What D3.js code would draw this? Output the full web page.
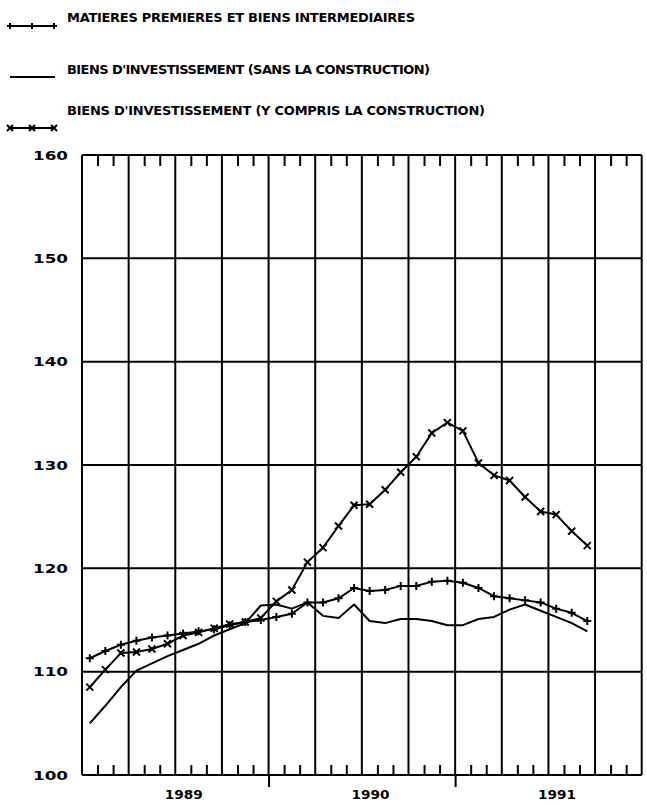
<!DOCTYPE html>
<html>
<head>
<meta charset="utf-8">
<script src="https://cdn.jsdelivr.net/npm/d3@7"></script>
<style>
  html, body { margin: 0; padding: 0; background: #fff; }
  svg { display: block; }
  text { font-family: "DejaVu Sans", sans-serif; font-weight: bold; fill: #000; }
</style>
</head>
<body>
<script>
// ---- Data (monthly index values, Jan 1989 – Sep 1991) ----
const months = [
  "1989-01","1989-02","1989-03","1989-04","1989-05","1989-06","1989-07","1989-08","1989-09","1989-10","1989-11","1989-12",
  "1990-01","1990-02","1990-03","1990-04","1990-05","1990-06","1990-07","1990-08","1990-09","1990-10","1990-11","1990-12",
  "1991-01","1991-02","1991-03","1991-04","1991-05","1991-06","1991-07","1991-08","1991-09"
];
const matieresPremieres = [
  111.3, 112.0, 112.6, 113.0, 113.3, 113.5, 113.7, 113.9, 114.1, 114.5, 114.8, 115.0,
  115.3, 115.6, 116.7, 116.7, 117.1, 118.1, 117.8, 117.9, 118.3, 118.3, 118.7, 118.8,
  118.6, 118.1, 117.3, 117.1, 116.9, 116.7, 116.1, 115.7, 114.9
];
const sansConstruction = [
  105.0, 106.7, 108.5, 110.1, 110.8, 111.5, 112.1, 112.7, 113.5, 114.1, 114.7, 116.4,
  116.5, 116.1, 116.7, 115.4, 115.2, 116.5, 114.9, 114.7, 115.1, 115.1, 114.9, 114.5,
  114.5, 115.1, 115.3, 116.0, 116.5, 115.9, 115.3, 114.7, 113.9
];
const yComprisConstruction = [
  108.5, 110.2, 111.8, 111.9, 112.2, 112.7, 113.5, 113.8, 114.2, 114.6, 114.8, 115.2,
  116.8, 117.9, 120.6, 122.0, 124.1, 126.1, 126.2, 127.6, 129.3, 130.8, 133.1, 134.1,
  133.3, 130.2, 129.0, 128.5, 126.9, 125.5, 125.2, 123.6, 122.2
];
const yTicks = [100, 110, 120, 130, 140, 150, 160];
const years = ["1989", "1990", "1991"];
const seriesNames = [
  "MATIERES PREMIERES ET BIENS INTERMEDIAIRES",
  "BIENS D'INVESTISSEMENT (SANS LA CONSTRUCTION)",
  "BIENS D'INVESTISSEMENT (Y COMPRIS LA CONSTRUCTION)"
];

// ---- Layout ----
const W = 647, H = 805;
const svg = d3.select("body").append("svg").attr("width", W).attr("height", H);

const nMonths = years.length * 12;
const x = d3.scaleLinear().domain([0, nMonths]).range([82, 641.7]);
const y = d3.scaleLinear().domain([100, 160]).range([775, 155]);
const xm = i => x(i + 0.5); // data points at mid-month

const ink = "#000";

// ---- Grid ----
const grid = svg.append("g").attr("stroke", ink).attr("stroke-width", 2);
grid.selectAll("line.h").data(yTicks).join("line")
  .attr("x1", x(0)).attr("x2", x(nMonths))
  .attr("y1", d => y(d)).attr("y2", d => y(d));
grid.selectAll("line.v").data(d3.range(0, nMonths + 1, 3)).join("line")
  .attr("x1", d => x(d)).attr("x2", d => x(d))
  .attr("y1", y(160)).attr("y2", y(100));

// ---- Axes ----
const minor = d3.range(1, nMonths).filter(m => m % 3 !== 0);
const topAx = svg.append("g").attr("transform", `translate(0,${y(160)})`)
  .call(d3.axisTop(x).tickValues(minor).tickSize(-11).tickFormat(""));
const botAx = svg.append("g").attr("transform", `translate(0,${y(100)})`)
  .call(d3.axisBottom(x).tickValues(minor).tickSize(-10).tickFormat(""));
const yearAx = svg.append("g").attr("transform", `translate(0,${y(100)})`)
  .call(d3.axisBottom(x).tickValues(d3.range(12, nMonths, 12)).tickSize(12).tickFormat(""));
[topAx, botAx, yearAx].forEach(g => {
  g.select(".domain").remove();
  g.selectAll(".tick line").attr("stroke", ink).attr("stroke-width", 2);
});

// y labels
const yAx = svg.append("g").attr("transform", `translate(${x(0)},0)`)
  .call(d3.axisLeft(y).tickValues(yTicks).tickSize(0).tickPadding(14));
yAx.select(".domain").remove();
yAx.selectAll(".tick text")
  .attr("font-size", 12).attr("font-family", "DejaVu Sans").attr("font-weight", "bold")
  .attr("fill", ink).attr("textLength", 35).attr("lengthAdjust", "spacingAndGlyphs")
  .attr("dy", "0.36em");

// year labels
svg.append("g").selectAll("text").data(years).join("text")
  .attr("x", (d, i) => x(i * 12 + 6.55))
  .attr("y", 799)
  .attr("text-anchor", "middle")
  .attr("font-size", 13)
  .attr("textLength", 38).attr("lengthAdjust", "spacingAndGlyphs")
  .text(d => d);

// ---- Markers ----
function plus(g, cx, cy, s) {
  g.append("path").attr("d", `M${cx - s},${cy}H${cx + s}M${cx},${cy - s}V${cy + s}`)
    .attr("stroke", ink).attr("stroke-width", 2).attr("fill", "none");
}
function cross(g, cx, cy, s) {
  g.append("path").attr("d", `M${cx - s},${cy - s}L${cx + s},${cy + s}M${cx - s},${cy + s}L${cx + s},${cy - s}`)
    .attr("stroke", ink).attr("stroke-width", 2).attr("fill", "none");
}

// ---- Lines ----
const line = d3.line().x((d, i) => xm(i)).y(d => y(d));
const plot = svg.append("g");
plot.append("path").datum(sansConstruction).attr("d", line)
  .attr("fill", "none").attr("stroke", ink).attr("stroke-width", 2).attr("stroke-linejoin", "round");
plot.append("path").datum(matieresPremieres).attr("d", line)
  .attr("fill", "none").attr("stroke", ink).attr("stroke-width", 2).attr("stroke-linejoin", "round");
plot.append("path").datum(yComprisConstruction).attr("d", line)
  .attr("fill", "none").attr("stroke", ink).attr("stroke-width", 2).attr("stroke-linejoin", "round");
const mk = plot.append("g");
matieresPremieres.forEach((v, i) => plus(mk, xm(i), y(v), 4));
yComprisConstruction.forEach((v, i) => cross(mk, xm(i), y(v), 3.5));

// ---- Legend ----
const leg = svg.append("g");
const legRows = [
  { lineY: 26, textY: 22, textLen: 348, marker: "plus" },
  { lineY: 77, textY: 74, textLen: 363, marker: null },
  { lineY: 128, textY: 115, textLen: 418, marker: "cross" }
];
legRows.forEach((r, k) => {
  leg.append("line").attr("x1", 10).attr("x2", 55).attr("y1", r.lineY).attr("y2", r.lineY)
    .attr("stroke", ink).attr("stroke-width", 2);
  [10, 32, 54].forEach(mx => {
    if (r.marker === "plus") plus(leg, mx, r.lineY, 3);
    if (r.marker === "cross") cross(leg, mx, r.lineY, 3);
  });
  leg.append("text").attr("x", 67).attr("y", r.textY)
    .attr("font-size", 13).attr("textLength", r.textLen).attr("lengthAdjust", "spacing")
    .text(seriesNames[k]);
});
</script>
</body>
</html>
